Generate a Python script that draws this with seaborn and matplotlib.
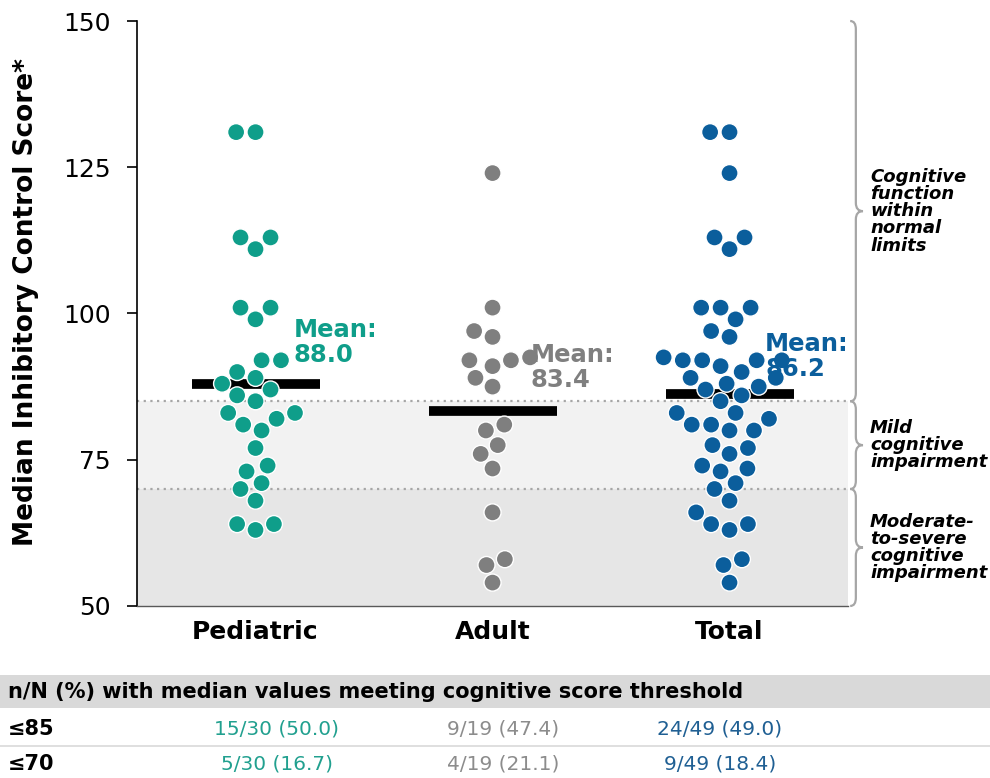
import matplotlib
matplotlib.use("Agg")
import matplotlib.pyplot as plt
import seaborn as sns
import pandas as pd
from matplotlib.path import Path
from matplotlib.patches import PathPatch, Rectangle
from matplotlib.transforms import blended_transform_factory
from matplotlib.lines import Line2D

# ---------------- data ----------------
groups = ["Pediatric", "Adult", "Total"]
pediatric = [131, 131, 113, 113, 111, 101, 101, 99, 92, 92, 90, 89, 88, 87, 86,
             85, 83, 83, 82, 81, 80, 77, 74, 73, 71, 70, 68, 64, 64, 63]
adult = [124, 101, 97, 96, 92, 92.5, 92, 91, 89, 87.5, 81, 80, 77.5, 76, 73.5,
         66, 58, 57, 54]
total = pediatric + adult
means = [88.0, 83.4, 86.2]
mean_labels = ["Mean:\n88.0", "Mean:\n83.4", "Mean:\n86.2"]
colors = ["#0F9E8A", "#7F7F7F", "#0B5E9C"]
table_colors = ["#21A08F", "#8C8C8C", "#1F5F93"]
thresholds = [85, 70]
zone_labels = ["Cognitive\nfunction\nwithin\nnormal\nlimits",
               "Mild\ncognitive\nimpairment",
               "Moderate-\nto-severe\ncognitive\nimpairment"]
zone_bounds = [(85, 150), (70, 85), (50, 70)]
table_header = "n/N (%) with median values meeting cognitive score threshold"
table_rows = ["≤85", "≤70"]
table_cells = [["15/30 (50.0)", "9/19 (47.4)", "24/49 (49.0)"],
               ["5/30 (16.7)", "4/19 (21.1)", "9/49 (18.4)"]]
yticks = [50, 75, 100, 125, 150]

df = pd.DataFrame({
    "group": ["Pediatric"] * len(pediatric) + ["Adult"] * len(adult) + ["Total"] * len(total),
    "score": pediatric + adult + total,
})

# ---------------- figure ----------------
sns.set_style("white")
plt.rcParams["font.family"] = ["DejaVu Sans"]
for k in ["text.color", "axes.labelcolor", "xtick.color", "ytick.color"]:
    plt.rcParams[k] = "black"

fig = plt.figure(figsize=(9.9, 7.78), dpi=100)
ax = fig.add_axes([0.1384, 0.2211, 0.7182, 0.7519])

# background zones
ax.axhspan(50, 85, color="#F2F2F2", zorder=0, lw=0)
ax.axhspan(50, 70, color="#E6E6E6", zorder=0.1, lw=0)
for t in thresholds:
    ax.axhline(t, color="#A6A6A6", lw=1.6, ls=(0, (1, 2)), zorder=0.2)

# mean bars
for i, m in enumerate(means):
    ax.hlines(m, i - 0.27, i + 0.27, color="black", lw=7, zorder=1.5)

sns.swarmplot(data=df, x="group", y="score", hue="group", order=groups,
              palette=dict(zip(groups, colors)), legend=False, size=12.3,
              edgecolor="white", linewidth=1, ax=ax, zorder=3)

# mean labels
label_pos = [(0.16, 95.0), (1.16, 90.7), (2.15, 92.7)]
for (x, y), txt, c in zip(label_pos, mean_labels, colors):
    ax.text(x, y, txt, color=c, fontsize=17.5, fontweight="bold",
            ha="left", va="center", linespacing=1.05, zorder=4)

ax.set_xlim(-0.5, 2.5)
ax.set_ylim(50, 150)
ax.set_yticks(yticks)
ax.tick_params(axis="y", labelsize=18, length=7, width=1.2, direction="out",
               left=True, color="black", pad=12)
ax.tick_params(axis="x", labelsize=18, length=0, pad=10)
for lab in ax.get_xticklabels():
    lab.set_fontweight("bold")
ax.set_xlabel("")
ax.set_ylabel("Median Inhibitory Control Score*", fontsize=19, fontweight="bold")
ax.yaxis.set_label_coords(-0.138, 0.52)

for s in ["top", "right"]:
    ax.spines[s].set_visible(False)
ax.spines["left"].set_color("black")
ax.spines["left"].set_linewidth(1.2)
ax.spines["bottom"].set_color("#595959")
ax.spines["bottom"].set_linewidth(1.0)

# braces
trans = blended_transform_factory(ax.transAxes, ax.transData)
x0, x1, xt = 1.003, 1.011, 1.021
r = 1.4
for (y0, y1), txt in zip(zone_bounds, zone_labels):
    ym = (y0 + y1) / 2
    verts = [(x0, y1), (x1, y1), (x1, y1 - r),
             (x1, ym + r),
             (x1, ym), (xt, ym),
             (x1, ym), (x1, ym - r),
             (x1, y0 + r),
             (x1, y0), (x0, y0)]
    codes = [Path.MOVETO, Path.CURVE3, Path.CURVE3,
             Path.LINETO,
             Path.CURVE3, Path.CURVE3,
             Path.CURVE3, Path.CURVE3,
             Path.LINETO,
             Path.CURVE3, Path.CURVE3]
    patch = PathPatch(Path(verts, codes), transform=trans, fill=False,
                      edgecolor="#A6A6A6", lw=1.6, clip_on=False)
    ax.add_patch(patch)
    ax.text(1.031, ym, txt, transform=trans, fontsize=13, fontweight="bold",
            fontstyle="italic", ha="left", va="center", linespacing=0.95,
            clip_on=False)

# table
fig.patches.append(Rectangle((0, 1 - 708 / 778), 1, 33 / 778, transform=fig.transFigure,
                             facecolor="#D9D9D9", edgecolor="none", zorder=0))
fig.text(8 / 990, 1 - 692 / 778, table_header, fontsize=15, fontweight="bold",
         ha="left", va="center")
row_y = [1 - 729 / 778, 1 - 764 / 778]
col_x = [277 / 990, 503 / 990, 720 / 990]
for ry, rl, cells in zip(row_y, table_rows, table_cells):
    fig.text(8 / 990, ry, rl, fontsize=15, fontweight="bold", ha="left", va="center")
    for cx, cell, c in zip(col_x, cells, table_colors):
        fig.text(cx, ry, cell, fontsize=14.5, color=c, ha="center", va="center")
fig.lines.append(Line2D([0, 1], [1 - 746 / 778] * 2, transform=fig.transFigure,
                        color="#D9D9D9", lw=1.2))

fig.savefig("out.png", dpi=100)
